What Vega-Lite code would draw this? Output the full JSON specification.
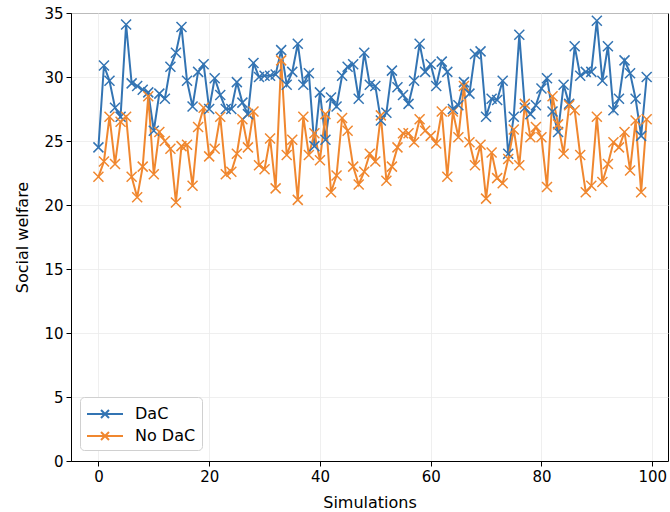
{
  "$schema": "https://vega.github.io/schema/vega-lite/v6.json",
  "autosize": {"type": "none"},
  "width": 597,
  "height": 448,
  "padding": {"left": 71, "top": 13, "right": 2, "bottom": 51},
  "data": {
    "values": [
      {"sim":0,"DaC":24.5,"No DaC":22.2},{"sim":1,"DaC":30.9,"No DaC":23.4},{"sim":2,"DaC":29.7,"No DaC":26.9},{"sim":3,"DaC":27.6,"No DaC":23.2},{"sim":4,"DaC":26.9,"No DaC":26.5},
      {"sim":5,"DaC":34.1,"No DaC":26.9},{"sim":6,"DaC":29.5,"No DaC":22.2},{"sim":7,"DaC":29.3,"No DaC":20.6},{"sim":8,"DaC":29.0,"No DaC":23.0},{"sim":9,"DaC":28.8,"No DaC":28.5},
      {"sim":10,"DaC":25.8,"No DaC":22.4},{"sim":11,"DaC":28.7,"No DaC":25.7},{"sim":12,"DaC":28.3,"No DaC":25.0},{"sim":13,"DaC":30.8,"No DaC":24.4},{"sim":14,"DaC":31.9,"No DaC":20.2},
      {"sim":15,"DaC":33.9,"No DaC":24.6},{"sim":16,"DaC":29.7,"No DaC":24.7},{"sim":17,"DaC":27.7,"No DaC":21.5},{"sim":18,"DaC":30.4,"No DaC":26.1},{"sim":19,"DaC":31.0,"No DaC":27.6},
      {"sim":20,"DaC":27.5,"No DaC":23.8},{"sim":21,"DaC":29.9,"No DaC":24.4},{"sim":22,"DaC":28.6,"No DaC":26.9},{"sim":23,"DaC":27.5,"No DaC":22.4},{"sim":24,"DaC":27.5,"No DaC":22.6},
      {"sim":25,"DaC":29.6,"No DaC":24.0},{"sim":26,"DaC":28.0,"No DaC":26.7},{"sim":27,"DaC":27.1,"No DaC":24.5},{"sim":28,"DaC":31.1,"No DaC":27.3},{"sim":29,"DaC":30.0,"No DaC":23.1},
      {"sim":30,"DaC":30.1,"No DaC":22.8},{"sim":31,"DaC":30.1,"No DaC":25.2},{"sim":32,"DaC":30.2,"No DaC":21.3},{"sim":33,"DaC":32.1,"No DaC":31.3},{"sim":34,"DaC":29.4,"No DaC":23.9},
      {"sim":35,"DaC":30.4,"No DaC":25.1},{"sim":36,"DaC":32.6,"No DaC":20.4},{"sim":37,"DaC":29.4,"No DaC":26.9},{"sim":38,"DaC":30.3,"No DaC":23.9},{"sim":39,"DaC":24.6,"No DaC":25.6},
      {"sim":40,"DaC":28.8,"No DaC":23.5},{"sim":41,"DaC":25.1,"No DaC":27.1},{"sim":42,"DaC":28.4,"No DaC":21.0},{"sim":43,"DaC":27.7,"No DaC":22.3},{"sim":44,"DaC":30.1,"No DaC":26.8},
      {"sim":45,"DaC":30.8,"No DaC":25.8},{"sim":46,"DaC":31.0,"No DaC":23.0},{"sim":47,"DaC":28.3,"No DaC":21.6},{"sim":48,"DaC":31.9,"No DaC":22.6},{"sim":49,"DaC":29.4,"No DaC":24.0},
      {"sim":50,"DaC":29.3,"No DaC":23.4},{"sim":51,"DaC":26.6,"No DaC":27.0},{"sim":52,"DaC":27.2,"No DaC":21.9},{"sim":53,"DaC":30.5,"No DaC":23.0},{"sim":54,"DaC":29.2,"No DaC":24.5},
      {"sim":55,"DaC":28.6,"No DaC":25.6},{"sim":56,"DaC":27.9,"No DaC":25.6},{"sim":57,"DaC":29.7,"No DaC":24.9},{"sim":58,"DaC":32.6,"No DaC":26.7},{"sim":59,"DaC":30.4,"No DaC":25.8},
      {"sim":60,"DaC":31.0,"No DaC":25.4},{"sim":61,"DaC":29.3,"No DaC":24.8},{"sim":62,"DaC":31.2,"No DaC":27.3},{"sim":63,"DaC":30.4,"No DaC":22.2},{"sim":64,"DaC":27.5,"No DaC":27.3},
      {"sim":65,"DaC":27.8,"No DaC":25.3},{"sim":66,"DaC":29.6,"No DaC":29.3},{"sim":67,"DaC":28.7,"No DaC":24.9},{"sim":68,"DaC":31.8,"No DaC":23.1},{"sim":69,"DaC":32.0,"No DaC":24.7},
      {"sim":70,"DaC":26.9,"No DaC":20.5},{"sim":71,"DaC":28.3,"No DaC":24.1},{"sim":72,"DaC":28.2,"No DaC":22.1},{"sim":73,"DaC":29.7,"No DaC":21.7},{"sim":74,"DaC":24.0,"No DaC":23.6},
      {"sim":75,"DaC":26.9,"No DaC":25.9},{"sim":76,"DaC":33.3,"No DaC":23.1},{"sim":77,"DaC":27.6,"No DaC":27.9},{"sim":78,"DaC":27.1,"No DaC":25.3},{"sim":79,"DaC":27.8,"No DaC":26.1},
      {"sim":80,"DaC":29.1,"No DaC":25.3},{"sim":81,"DaC":29.9,"No DaC":21.4},{"sim":82,"DaC":27.3,"No DaC":28.5},{"sim":83,"DaC":25.7,"No DaC":26.3},{"sim":84,"DaC":29.4,"No DaC":24.0},
      {"sim":85,"DaC":27.9,"No DaC":27.8},{"sim":86,"DaC":32.4,"No DaC":27.4},{"sim":87,"DaC":30.1,"No DaC":23.9},{"sim":88,"DaC":30.4,"No DaC":21.0},{"sim":89,"DaC":30.4,"No DaC":21.5},
      {"sim":90,"DaC":34.4,"No DaC":26.9},{"sim":91,"DaC":29.7,"No DaC":21.8},{"sim":92,"DaC":32.4,"No DaC":23.2},{"sim":93,"DaC":27.4,"No DaC":24.9},{"sim":94,"DaC":28.3,"No DaC":24.5},
      {"sim":95,"DaC":31.3,"No DaC":25.7},{"sim":96,"DaC":30.3,"No DaC":22.7},{"sim":97,"DaC":28.3,"No DaC":26.6},{"sim":98,"DaC":25.4,"No DaC":21.0},{"sim":99,"DaC":30.0,"No DaC":26.7}
    ]
  },
  "transform": [{"fold": ["DaC", "No DaC"], "as": ["series", "welfare"]}],
  "encoding": {
    "x": {
      "field": "sim", "type": "quantitative",
      "scale": {"domain": [-4.95, 102.85], "nice": false, "zero": false},
      "axis": {"values": [0, 20, 40, 60, 80, 100], "title": "Simulations", "titlePadding": 10}
    },
    "y": {
      "field": "welfare", "type": "quantitative",
      "scale": {"domain": [0, 35], "nice": false},
      "axis": {"values": [0, 5, 10, 15, 20, 25, 30, 35], "title": "Social welfare", "titlePadding": 13}
    },
    "color": {
      "field": "series", "type": "nominal",
      "scale": {"domain": ["DaC", "No DaC"], "range": ["#3374b3", "#f0872f"]},
      "legend": {
        "title": null,
        "orient": "none",
        "legendX": 9,
        "legendY": 384,
        "fillColor": "white",
        "strokeColor": "#d0d0d0",
        "cornerRadius": 4,
        "padding": 6,
        "labelFontSize": 16,
        "labelColor": "#000",
        "symbolType": "M-1.8,0L1.8,0M-0.4,-0.4L0.4,0.4M-0.4,0.4L0.4,-0.4",
        "symbolSize": 400,
        "symbolStrokeWidth": 2,
        "symbolFillColor": "transparent",
        "symbolOffset": 8,
        "labelOffset": 19,
        "rowPadding": 3
      }
    }
  },
  "layer": [
    {"mark": {"type": "line", "strokeWidth": 2}},
    {"mark": {"type": "point", "shape": "M-1,-1L1,1M-1,1L1,-1", "filled": false, "size": 100, "strokeWidth": 1.5, "opacity": 1}}
  ],
  "config": {
    "font": "DejaVu Sans",
    "view": {"stroke": "#000", "strokeWidth": 1},
    "axis": {
      "labelFontSize": 15,
      "titleFontSize": 16,
      "titleFontWeight": "normal",
      "labelColor": "#000",
      "titleColor": "#000",
      "gridColor": "#ebebeb",
      "gridWidth": 0.8,
      "domainColor": "#000",
      "tickColor": "#000",
      "tickSize": 5,
      "labelPadding": 3
    }
  }
}
